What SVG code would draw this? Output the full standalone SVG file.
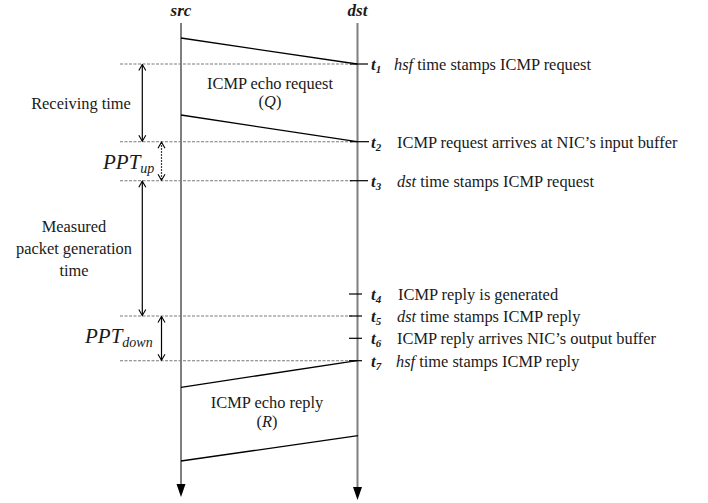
<svg xmlns="http://www.w3.org/2000/svg" width="708" height="503" viewBox="0 0 708 503">
<defs>
<style>
text{font-family:"Liberation Serif","Times New Roman",serif;fill:#1a1a1a;font-size:16.4px}
.hd{font-weight:bold;font-style:italic;font-size:17px}
.it{font-style:italic}
.tl{font-weight:bold;font-style:italic;font-size:17px}
.sub{font-size:11px}
.ppt{font-style:italic;font-size:21px}
.ppts{font-size:14px}
.life{stroke:#7f7f7f;stroke-width:2;fill:none}
.msg{stroke:#000;stroke-width:1.3;fill:none}
.dash{stroke:#7a7a7a;stroke-width:1.1;stroke-dasharray:3 1.5;fill:none}
.tick{stroke:#000;stroke-width:1.2}
.dim{stroke:#000;stroke-width:1.2;fill:none;marker-start:url(#v);marker-end:url(#v)}
.dot{stroke-dasharray:1.5 1.5}
</style>
<marker id="v" viewBox="-7 -5 8 10" refX="0" refY="0" markerWidth="8" markerHeight="10" markerUnits="userSpaceOnUse" orient="auto-start-reverse">
<path d="M-6,-3.5 L0,0 L-6,3.5" fill="none" stroke="#000" stroke-width="1.1"/>
</marker>
</defs>

<g id="src">
<line class="life" x1="181" y1="23" x2="181" y2="485"/>
<polygon points="176.5,484 185.5,484 181,497" fill="#000"/>
<text class="hd" x="181" y="16" text-anchor="middle">src</text>
</g>
<g id="dst">
<line class="life" x1="357.5" y1="23" x2="357.5" y2="488"/>
<polygon points="353,487 362,487 357.5,500" fill="#000"/>
<text class="hd" x="357.5" y="16" text-anchor="middle">dst</text>
</g>

<g id="connectors">
<line class="msg" x1="181" y1="38" x2="357" y2="64"/>
<line class="msg" x1="181" y1="115" x2="357" y2="141.7"/>
<line class="msg" x1="357" y1="360.7" x2="181" y2="387.3"/>
<line class="msg" x1="181" y1="461" x2="358" y2="435.7"/>
<line class="dash" x1="120" y1="64" x2="352" y2="64"/>
<line class="dash" x1="120" y1="141.7" x2="352" y2="141.7"/>
<line class="dash" x1="120" y1="180.7" x2="352" y2="180.7"/>
<line class="dash" x1="120" y1="316" x2="352" y2="316"/>
<line class="dash" x1="120" y1="360.7" x2="352" y2="360.7"/>
<line class="tick" x1="350" y1="64" x2="368" y2="64"/>
<line class="tick" x1="350" y1="141.7" x2="369" y2="141.7"/>
<line class="tick" x1="350" y1="180.7" x2="368" y2="180.7"/>
<line class="tick" x1="349" y1="294" x2="362" y2="294"/>
<line class="tick" x1="349" y1="316" x2="362" y2="316"/>
<line class="tick" x1="349" y1="338.3" x2="362" y2="338.3"/>
<line class="tick" x1="349" y1="360.7" x2="362" y2="360.7"/>
<line class="dim" x1="142.3" y1="64.5" x2="142.3" y2="141.2"/>
<line class="dim dot" x1="161.5" y1="142.2" x2="161.5" y2="180.2"/>
<line class="dim" x1="142.3" y1="181.2" x2="142.3" y2="315.5"/>
<line class="dim" x1="161.5" y1="316.5" x2="161.5" y2="360.2"/>
</g>

<g id="request">
<text x="270" y="89" text-anchor="middle">ICMP echo request</text>
<text x="270" y="107" text-anchor="middle">(<tspan class="it">Q</tspan>)</text>
</g>
<g id="reply">
<text x="267" y="408" text-anchor="middle">ICMP echo reply</text>
<text x="267" y="427" text-anchor="middle">(<tspan class="it">R</tspan>)</text>
</g>

<g id="receiving">
<text x="81" y="109" text-anchor="middle">Receiving time</text>
</g>
<g id="pptup">
<text class="ppt" x="103" y="169">PPT<tspan class="ppts" dy="4">up</tspan></text>
</g>
<g id="measured">
<text x="74" y="232" text-anchor="middle">Measured</text>
<text x="74" y="254" text-anchor="middle">packet generation</text>
<text x="74" y="276" text-anchor="middle">time</text>
</g>
<g id="pptdown">
<text class="ppt" x="85" y="343">PPT<tspan class="ppts" dy="4">down</tspan></text>
</g>

<g id="t1"><text class="tl" x="371" y="70">t<tspan class="sub" dy="3">1</tspan></text><text x="394" y="70"><tspan class="it">hsf</tspan> time stamps ICMP request</text></g>
<g id="t2"><text class="tl" x="371" y="147.5">t<tspan class="sub" dy="3">2</tspan></text><text x="397" y="147.5">ICMP request arrives at NIC’s input buffer</text></g>
<g id="t3"><text class="tl" x="371" y="186.5">t<tspan class="sub" dy="3">3</tspan></text><text x="397" y="186.5"><tspan class="it">dst</tspan> time stamps ICMP request</text></g>
<g id="t4"><text class="tl" x="371" y="299.5">t<tspan class="sub" dy="3">4</tspan></text><text x="398" y="299.5">ICMP reply is generated</text></g>
<g id="t5"><text class="tl" x="371" y="321.5">t<tspan class="sub" dy="3">5</tspan></text><text x="397" y="321.5"><tspan class="it">dst</tspan> time stamps ICMP reply</text></g>
<g id="t6"><text class="tl" x="371" y="344">t<tspan class="sub" dy="3">6</tspan></text><text x="397" y="344">ICMP reply arrives NIC’s output buffer</text></g>
<g id="t7"><text class="tl" x="371" y="366.5">t<tspan class="sub" dy="3">7</tspan></text><text x="396" y="366.5"><tspan class="it">hsf</tspan> time stamps ICMP reply</text></g>
</svg>
